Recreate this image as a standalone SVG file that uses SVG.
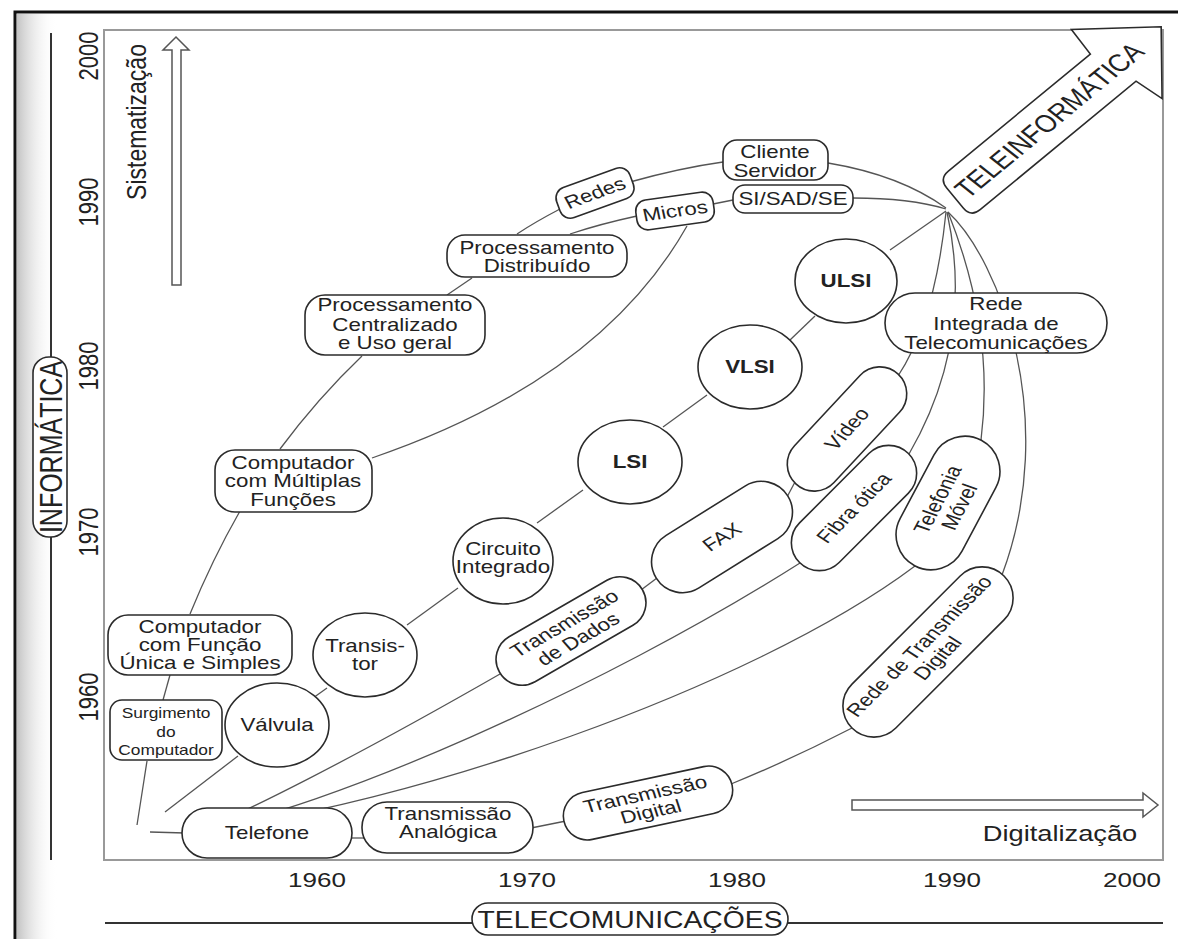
<svg xmlns="http://www.w3.org/2000/svg" width="1178" height="939" viewBox="0 0 1178 939">
<defs>
<linearGradient id="band" x1="0" x2="1" y1="0" y2="0"><stop offset="0" stop-color="#c4c4c4"/><stop offset="1" stop-color="#ffffff" stop-opacity="0"/></linearGradient>
<style>
.t{font-family:"Liberation Sans",Arial,Helvetica,sans-serif;font-size:18px;fill:#222;text-anchor:middle}
.s{font-size:14px}
.b{font-weight:bold}
.y{font-size:21px}
.n{fill:#fff;stroke:#2b2b2b;stroke-width:1.6}
.c{fill:none;stroke:#555;stroke-width:1.3}
.ax{fill:none;stroke:#333;stroke-width:2}
.fr{fill:none;stroke:#999;stroke-width:2}
.ha{fill:#fff;stroke:#555;stroke-width:1.5}
</style>
</defs>
<rect width="1178" height="939" fill="#fff"/>
<rect x="17" y="14" width="40" height="925" fill="url(#band)"/>
<path d="M15,939 L15,12 L1178,12" fill="none" stroke="#111" stroke-width="3"/>
<rect x="104" y="30" width="1059" height="830" class="fr"/>

<g id="axis-informatica">
<line x1="51" y1="33" x2="51" y2="860" class="ax"/>
<rect x="33" y="357" width="34" height="180" rx="16" class="n"/>
<g transform="translate(51,447) scale(1.24,1) rotate(-90)"><text class="t" y="9" style="font-size:25px">INFORMÁTICA</text></g>
<g transform="translate(88,56) scale(1.24,1) rotate(-90)"><text class="t" y="8" style="font-size:22px">2000</text></g>
<g transform="translate(88,202) scale(1.24,1) rotate(-90)"><text class="t" y="8" style="font-size:22px">1990</text></g>
<g transform="translate(88,366) scale(1.24,1) rotate(-90)"><text class="t" y="8" style="font-size:22px">1980</text></g>
<g transform="translate(88,532) scale(1.24,1) rotate(-90)"><text class="t" y="8" style="font-size:22px">1970</text></g>
<g transform="translate(88,697) scale(1.24,1) rotate(-90)"><text class="t" y="8" style="font-size:22px">1960</text></g>
</g>

<g id="axis-telecom">
<line x1="105" y1="923" x2="1163" y2="923" class="ax"/>
<rect x="472" y="903" width="316" height="32" rx="16" class="n"/>
<g transform="translate(630,0) scale(1.24,1)"><text class="t" y="928" style="font-size:24px" textLength="246" lengthAdjust="spacingAndGlyphs">TELECOMUNICAÇÕES</text></g>
<g transform="translate(317,0) scale(1.24,1)"><text class="t y" y="887">1960</text></g>
<g transform="translate(527,0) scale(1.24,1)"><text class="t y" y="887">1970</text></g>
<g transform="translate(737,0) scale(1.24,1)"><text class="t y" y="887">1980</text></g>
<g transform="translate(952,0) scale(1.24,1)"><text class="t y" y="887">1990</text></g>
<g transform="translate(1132,0) scale(1.24,1)"><text class="t y" y="887">2000</text></g>
</g>

<g id="arrow-sistematizacao">
<path d="M172,285 L172,50 L163,50 L176,37 L189,50 L181,50 L181,285 Z" class="ha"/>
<g transform="translate(136.5,122) scale(1.24,1) rotate(-90)"><text class="t" y="8" style="font-size:23px">Sistematização</text></g>
</g>

<g id="arrow-digitalizacao">
<path d="M852,800 L1143,800 L1143,793 L1158,805 L1143,817 L1143,810 L852,810 Z" class="ha"/>
<g transform="translate(1060,0) scale(1.24,1)"><text class="t" y="841" style="font-size:22px">Digitalização</text></g>
</g>

<g id="connectors">
<path class="c" d="M147,761 L137,825"/>
<path class="c" d="M163,700 L170,675"/>
<path class="c" d="M190,614 Q212,560 240,511"/>
<path class="c" d="M280,449 Q318,398 362,356"/>
<path class="c" d="M447,295 L472,278"/>
<path class="c" d="M517,234 Q535,222 560,209"/>
<path class="c" d="M570,234 Q600,224 637,216"/>
<path class="c" d="M630,182 Q680,168 723,162"/>
<path class="c" d="M713,204 L733,200"/>
<path class="c" d="M828,163 Q900,175 946,208"/>
<path class="c" d="M853,198 Q910,198 946,209"/>
<path class="c" d="M372,458 Q600,380 687,226"/>
<path class="c" d="M165,812 L238,756"/>
<path class="c" d="M313,698 L327,688"/>
<path class="c" d="M407,625 L458,588"/>
<path class="c" d="M537,523 L583,490"/>
<path class="c" d="M663,427 L707,395"/>
<path class="c" d="M790,340 L815,316"/>
<path class="c" d="M890,250 L946,211"/>
<path class="c" d="M946,212 Q935,320 898,376"/>
<path class="c" d="M947,212 Q975,340 909,454"/>
<path class="c" d="M948,212 Q995,330 981,440"/>
<path class="c" d="M948,212 C1000,260 1060,420 1002,575"/>
<path class="c" d="M150,832 L185,833"/>
<path class="c" d="M200,830 C240,815 350,760 500,674"/>
<path class="c" d="M200,830 C320,812 600,690 800,563"/>
<path class="c" d="M200,830 C400,808 750,690 915,566"/>
<path class="c" d="M350,838 L365,838"/>
<path class="c" d="M531,828 L566,821"/>
<path class="c" d="M731,784 Q790,760 852,728"/>
<path class="c" d="M641,590 L657,578"/>
<path class="c" d="M787,497 L795,482"/>
</g>

<g id="n-teleinformatica">
<path class="n" transform="translate(955,198) rotate(-39.5)" d="M12,-25 L196,-25 L197,-56 L268,-1 L223,55 L214,25 L12,25 Q0,25 0,13 L0,-13 Q0,-25 12,-25 Z"/>
<g transform="translate(1049,120) scale(1.24,1) rotate(-45.6)"><text class="t" y="9" style="font-size:25px" textLength="205" lengthAdjust="spacingAndGlyphs">TELEINFORMÁTICA</text></g>
</g>

<g id="n-cliente">
<rect x="723" y="140" width="105" height="40" rx="14" class="n"/>
<g transform="translate(775,0) scale(1.24,1)"><text class="t" y="158">Cliente</text><text class="t" y="177">Servidor</text></g>
</g>
<g id="n-sisadse">
<rect x="733" y="185" width="120" height="28" rx="12" class="n"/>
<g transform="translate(793,0) scale(1.24,1)"><text class="t" y="205">SI/SAD/SE</text></g>
</g>
<g id="n-redes">
<rect x="-39" y="-16" width="78" height="32" rx="11" class="n" transform="translate(595,193) rotate(-20)"/>
<g transform="translate(595,193) scale(1.24,1) rotate(-24.3)"><text class="t" y="6">Redes</text></g>
</g>
<g id="n-micros">
<rect x="-39" y="-15" width="78" height="30" rx="11" class="n" transform="translate(675,211) rotate(-8)"/>
<g transform="translate(675,211) scale(1.24,1) rotate(-9.9)"><text class="t" y="6">Micros</text></g>
</g>
<g id="n-distribuido">
<rect x="447" y="235" width="180" height="42" rx="18" class="n"/>
<g transform="translate(537,0) scale(1.24,1)"><text class="t" y="254">Processamento</text><text class="t" y="272">Distribuído</text></g>
</g>
<g id="n-centralizado">
<rect x="305" y="295" width="180" height="60" rx="20" class="n"/>
<g transform="translate(395,0) scale(1.24,1)"><text class="t" y="311">Processamento</text><text class="t" y="331">Centralizado</text><text class="t" y="349">e Uso geral</text></g>
</g>
<g id="n-multiplas">
<rect x="215" y="450" width="157" height="62" rx="20" class="n"/>
<g transform="translate(293,0) scale(1.24,1)"><text class="t" y="469">Computador</text><text class="t" y="487">com Múltiplas</text><text class="t" y="506">Funções</text></g>
</g>
<g id="n-unica">
<rect x="108" y="615" width="184" height="60" rx="20" class="n"/>
<g transform="translate(200,0) scale(1.24,1)"><text class="t" y="633">Computador</text><text class="t" y="651">com Função</text><text class="t" y="669">Única e Simples</text></g>
</g>
<g id="n-surgimento">
<rect x="110" y="700" width="112" height="60" rx="12" class="n"/>
<g transform="translate(166,0) scale(1.24,1)"><text class="t s" y="718">Surgimento</text><text class="t s" y="737">do</text><text class="t s" y="755">Computador</text></g>
</g>
<g id="n-valvula">
<ellipse cx="277" cy="725" rx="52" ry="42" class="n"/>
<g transform="translate(277,0) scale(1.24,1)"><text class="t" y="731">Válvula</text></g>
</g>
<g id="n-transistor">
<ellipse cx="365" cy="655" rx="52" ry="42" class="n"/>
<g transform="translate(365,0) scale(1.24,1)"><text class="t" y="652">Transis-</text><text class="t" y="670">tor</text></g>
</g>
<g id="n-circuito">
<ellipse cx="503" cy="561" rx="50" ry="43" class="n"/>
<g transform="translate(503,0) scale(1.24,1)"><text class="t" y="555">Circuito</text><text class="t" y="573">Integrado</text></g>
</g>
<g id="n-lsi">
<ellipse cx="630" cy="462" rx="52" ry="42" class="n"/>
<g transform="translate(630,0) scale(1.24,1)"><text class="t b" y="468">LSI</text></g>
</g>
<g id="n-vlsi">
<ellipse cx="750" cy="367" rx="52" ry="42" class="n"/>
<g transform="translate(750,0) scale(1.24,1)"><text class="t b" y="373">VLSI</text></g>
</g>
<g id="n-ulsi">
<ellipse cx="846" cy="281" rx="51" ry="42" class="n"/>
<g transform="translate(846,0) scale(1.24,1)"><text class="t b" y="287">ULSI</text></g>
</g>
<g id="n-rede-integrada">
<rect x="885" y="293" width="222" height="60" rx="30" class="n"/>
<g transform="translate(996,0) scale(1.24,1)"><text class="t" y="310">Rede</text><text class="t" y="330">Integrada de</text><text class="t" y="349">Telecomunicações</text></g>
</g>
<g id="n-video">
<rect x="-75" y="-27" width="150" height="54" rx="27" class="n" transform="translate(847,429) rotate(-47)"/>
<g transform="translate(847,429) scale(1.24,1) rotate(-53.1)"><text class="t" y="6">Vídeo</text></g>
</g>
<g id="n-fibra">
<rect x="-77" y="-28" width="154" height="56" rx="28" class="n" transform="translate(854,508) rotate(-45)"/>
<g transform="translate(854,508) scale(1.24,1) rotate(-51.1)"><text class="t" y="6">Fibra ótica</text></g>
</g>
<g id="n-telefonia">
<rect x="-71" y="-35" width="142" height="70" rx="35" class="n" transform="translate(948,503) rotate(-62)"/>
<g transform="translate(948,503) scale(1.24,1) rotate(-66.8)"><text class="t" y="-3">Telefonia</text><text class="t" y="16">Móvel</text></g>
</g>
<g id="n-fax">
<rect x="-77.5" y="-31" width="155" height="62" rx="31" class="n" transform="translate(722,537) rotate(-32)"/>
<g transform="translate(722,537) scale(1.24,1) rotate(-37.8)"><text class="t" y="6">FAX</text></g>
</g>
<g id="n-dados">
<rect x="-82.5" y="-26" width="165" height="52" rx="26" class="n" transform="translate(571,631) rotate(-30)"/>
<g transform="translate(571,631) scale(1.24,1) rotate(-35.6)"><text class="t" y="-3">Transmissão</text><text class="t" y="16">de Dados</text></g>
</g>
<g id="n-rede-transmissao">
<rect x="-107.5" y="-31" width="215" height="62" rx="31" class="n" transform="translate(928,652) rotate(-45)"/>
<g transform="translate(928,652) scale(1.24,1) rotate(-51.1)"><text class="t" y="-3">Rede de Transmissão</text><text class="t" y="16">Digital</text></g>
</g>
<g id="n-telefone">
<rect x="182" y="808" width="170" height="50" rx="25" class="n"/>
<g transform="translate(267,0) scale(1.24,1)"><text class="t" y="839">Telefone</text></g>
</g>
<g id="n-analogica">
<rect x="362" y="802" width="171" height="51" rx="25" class="n"/>
<g transform="translate(448,0) scale(1.24,1)"><text class="t" y="820">Transmissão</text><text class="t" y="838">Analógica</text></g>
</g>
<g id="n-trans-digital">
<rect x="-86" y="-24" width="172" height="48" rx="24" class="n" transform="translate(648,803) rotate(-12)"/>
<g transform="translate(648,803) scale(1.24,1) rotate(-14.8)"><text class="t" y="-3">Transmissão</text><text class="t" y="15">Digital</text></g>
</g>
</svg>
